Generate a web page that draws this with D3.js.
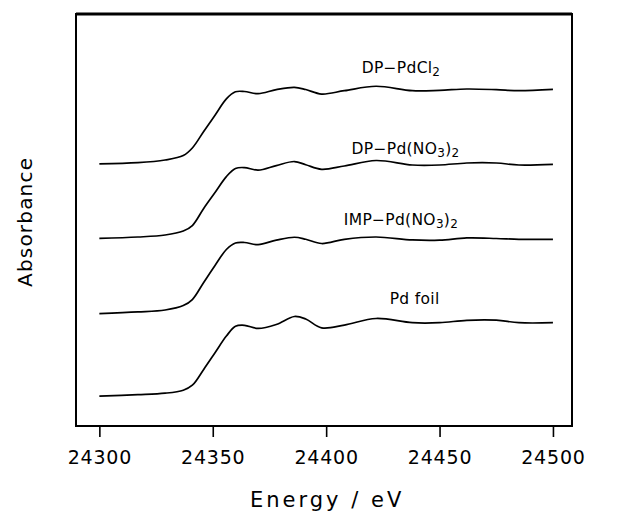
<!DOCTYPE html>
<html>
<head>
<meta charset="utf-8">
<script src="https://cdn.jsdelivr.net/npm/d3@7"></script>
<style>
  html, body { margin: 0; padding: 0; background: #fff; }
  svg { display: block; }
  text { font-family: "DejaVu Sans", sans-serif; fill: #000; }
</style>
</head>
<body>
<svg id="chart" width="630" height="512"></svg>
<script>
// Energy grid (eV)
const energy = [24300, 24317, 24329, 24337, 24341, 24346, 24351, 24356, 24360, 24364,
                24370, 24378, 24386, 24391, 24398, 24408, 24422, 24438, 24450, 24462,
                24475, 24485, 24500];

// Absorbance (arbitrary units, curves stacked with offsets as in the figure)
const dpPdCl2 = [3.541, 3.558, 3.595, 3.655, 3.757, 3.980, 4.200, 4.420, 4.516, 4.520,
                 4.491, 4.546, 4.577, 4.547, 4.486, 4.531, 4.591, 4.531, 4.536, 4.554,
                 4.545, 4.531, 4.550];
const dpPdNO3 = [2.536, 2.554, 2.581, 2.635, 2.709, 2.940, 3.155, 3.370, 3.480, 3.492,
                 3.457, 3.519, 3.574, 3.530, 3.469, 3.514, 3.588, 3.527, 3.527, 3.554,
                 3.554, 3.527, 3.536];
const impPdNO3 = [1.518, 1.541, 1.568, 1.628, 1.709, 1.940, 2.170, 2.385, 2.473, 2.480,
                  2.451, 2.511, 2.551, 2.524, 2.466, 2.523, 2.554, 2.514, 2.511, 2.541,
                  2.534, 2.523, 2.523];
const pdFoil = [0.405, 0.423, 0.443, 0.484, 0.551, 0.765, 0.990, 1.215, 1.347, 1.361,
                1.319, 1.372, 1.480, 1.446, 1.327, 1.364, 1.453, 1.396, 1.396, 1.428,
                1.430, 1.396, 1.396];

const seriesNames = ["DP\u2212PdCl", "DP\u2212Pd(NO", "IMP\u2212Pd(NO", "Pd foil"];
const seriesValues = [dpPdCl2, dpPdNO3, impPdNO3, pdFoil];
// label anchors (energy, absorbance units)
const labelEnergy = [24433, 24435, 24433, 24439];
const labelValue = [4.777, 3.676, 2.716, 1.642];

const xTicks = [24300, 24350, 24400, 24450, 24500];
const xDomain = [24289.7, 24508.4];
const yDomain = [0, 5.5676];

const svg = d3.select("#chart");
const mLeft = 76, mRight = 572, mTop = 14, mBottom = 426;

const x = d3.scaleLinear().domain(xDomain).range([mLeft, mRight]);
const y = d3.scaleLinear().domain(yDomain).range([mBottom, mTop]);

// curves
const line = d3.line()
  .x(d => x(d[0]))
  .y(d => y(d[1]))
  .curve(d3.curveCatmullRom.alpha(0.5));

seriesValues.forEach(vals => {
  const pts = energy.map((e, i) => [e, vals[i]]);
  svg.append("path")
    .attr("d", line(pts))
    .attr("fill", "none")
    .attr("stroke", "#000")
    .attr("stroke-width", 1.7)
    .attr("stroke-linejoin", "round");
});

// frame
svg.append("rect")
  .attr("x", mLeft).attr("y", mTop)
  .attr("width", mRight - mLeft).attr("height", mBottom - mTop)
  .attr("fill", "none").attr("stroke", "#000").attr("stroke-width", 2);
svg.append("line")
  .attr("x1", mLeft).attr("x2", mRight).attr("y1", mTop).attr("y2", mTop)
  .attr("stroke", "#000").attr("stroke-width", 3);

// x axis
const xAxis = d3.axisBottom(x).tickValues(xTicks).tickSize(11).tickFormat(d3.format("d"));
const gx = svg.append("g").attr("transform", `translate(0,${mBottom})`).call(xAxis);
gx.select(".domain").remove();
gx.selectAll(".tick line").attr("stroke", "#000").attr("stroke-width", 1.6);
gx.selectAll(".tick text")
  .attr("y", 38).attr("dy", 0)
  .style("font-family", "DejaVu Sans, sans-serif")
  .style("font-size", "19px")
  .style("letter-spacing", "0.8px")
  .attr("fill", "#000");

// axis titles
svg.append("text")
  .attr("x", x(24400) + 1)
  .attr("y", 507)
  .attr("text-anchor", "middle")
  .style("font-size", "21px")
  .style("letter-spacing", "3px")
  .text("Energy / eV");

svg.append("text")
  .attr("transform", "translate(32,287) rotate(-90)")
  .attr("text-anchor", "start")
  .style("font-size", "20px")
  .style("letter-spacing", "1.2px")
  .text("Absorbance");

// series labels
seriesNames.forEach((name, i) => {
  const t = svg.append("text")
    .attr("x", x(labelEnergy[i]))
    .attr("y", y(labelValue[i]))
    .attr("text-anchor", "middle")
    .style("font-size", "15.5px")
    .style("letter-spacing", "0.3px");
  t.append("tspan").text(name);
  if (i === 0) {
    t.append("tspan").attr("dy", 3).style("font-size", "12px").text("2");
  } else if (i === 1 || i === 2) {
    t.append("tspan").attr("dy", 3).style("font-size", "12px").text("3");
    t.append("tspan").attr("dy", -3).text(")");
    t.append("tspan").attr("dy", 3).style("font-size", "12px").text("2");
  }
});
</script>
</body>
</html>
